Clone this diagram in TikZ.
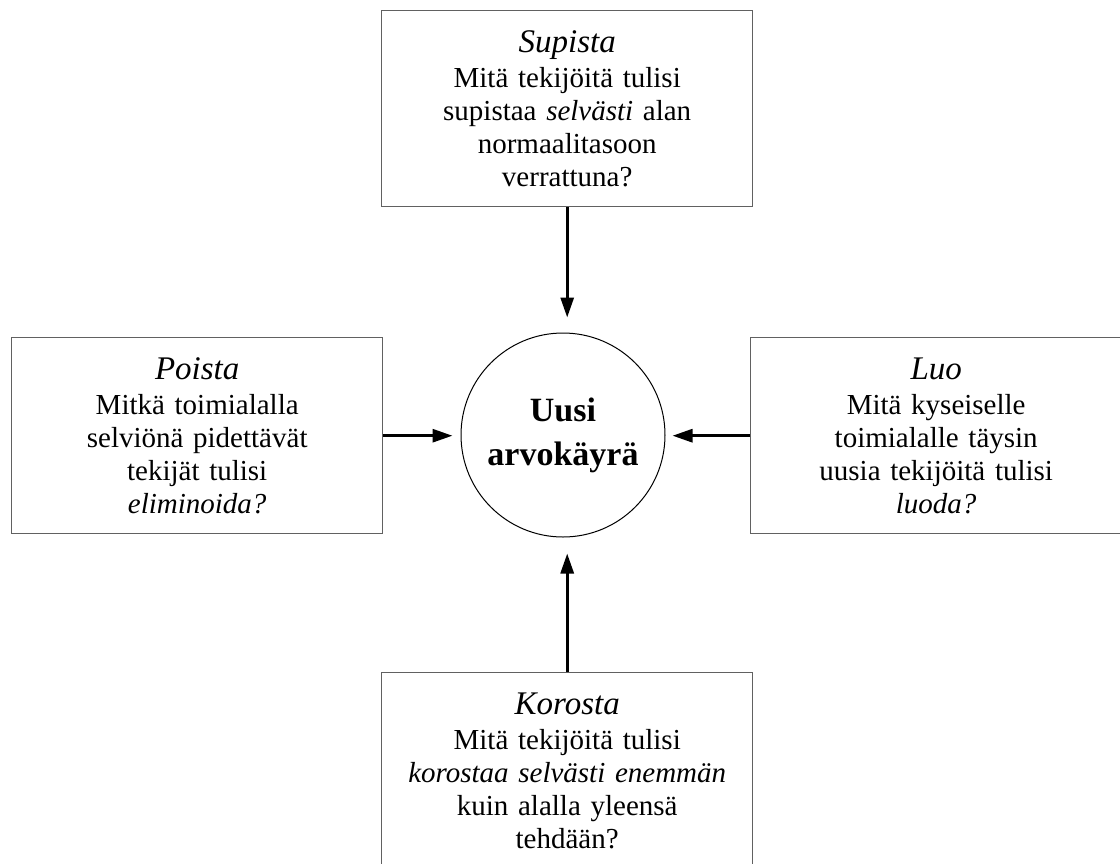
\documentclass[tikz,border=0pt]{standalone}
\usepackage{fontspec}
\setmainfont{Liberation Serif}
\usetikzlibrary{arrows.meta}
\newcommand\boxtitle[1]{{\fontsize{33}{36}\selectfont\itshape #1}}
\begin{document}
\begin{tikzpicture}[x=1pt,y=-1pt,
  qbox/.style={draw=black!62, line width=1.4pt, minimum width=371pt,
    minimum height=196pt, inner sep=0pt, align=center, text width=360pt,
    font=\fontsize{29}{33}\selectfont, anchor=north west},
  hub/.style={circle, draw=black, line width=1pt, minimum size=204pt,
    inner sep=0pt, align=center, font=\fontsize{34}{44}\selectfont\bfseries},
  arr/.style={draw=black, line width=3pt, -{Triangle[length=20pt,width=13pt]}}]
\useasboundingbox (0,0) rectangle (1120,863);
\clip (0,0) rectangle (1120,863);
\fill[white] (0,0) rectangle (1120,863);

\node[hub] (c) at (563,435) {Uusi\\arvokäyrä};

\node[qbox] (top) at (381,10) {\boxtitle{Supista}\\[2pt]
  Mitä tekijöitä tulisi\\supistaa \textit{selvästi} alan\\normaalitasoon\\verrattuna?};
\node[qbox] (left) at (11,337) {\boxtitle{Poista}\\[2pt]
  Mitkä toimialalla\\selviönä pidettävät\\tekijät tulisi\\\textit{eliminoida?}};
\node[qbox] (right) at (750,337) {\boxtitle{Luo}\\[2pt]
  Mitä kyseiselle\\toimialalle täysin\\uusia tekijöitä tulisi\\\textit{luoda?}};
\node[qbox] (bottom) at (381,672) {\boxtitle{Korosta}\\[2pt]
  Mitä tekijöitä tulisi\\\textit{korostaa selvästi enemmän}\\kuin alalla yleensä\\tehdään?};

\draw[arr, shorten >=15pt] (top.south) -- (top.south |- c.north);
\draw[arr, shorten >=16pt] (bottom.north) -- (bottom.north |- c.south);
\draw[arr, shorten >=8pt] (left.east) -- (left.east -| c.west);
\draw[arr, shorten >=7pt] (right.west) -- (right.west -| c.east);
\end{tikzpicture}
\end{document}
